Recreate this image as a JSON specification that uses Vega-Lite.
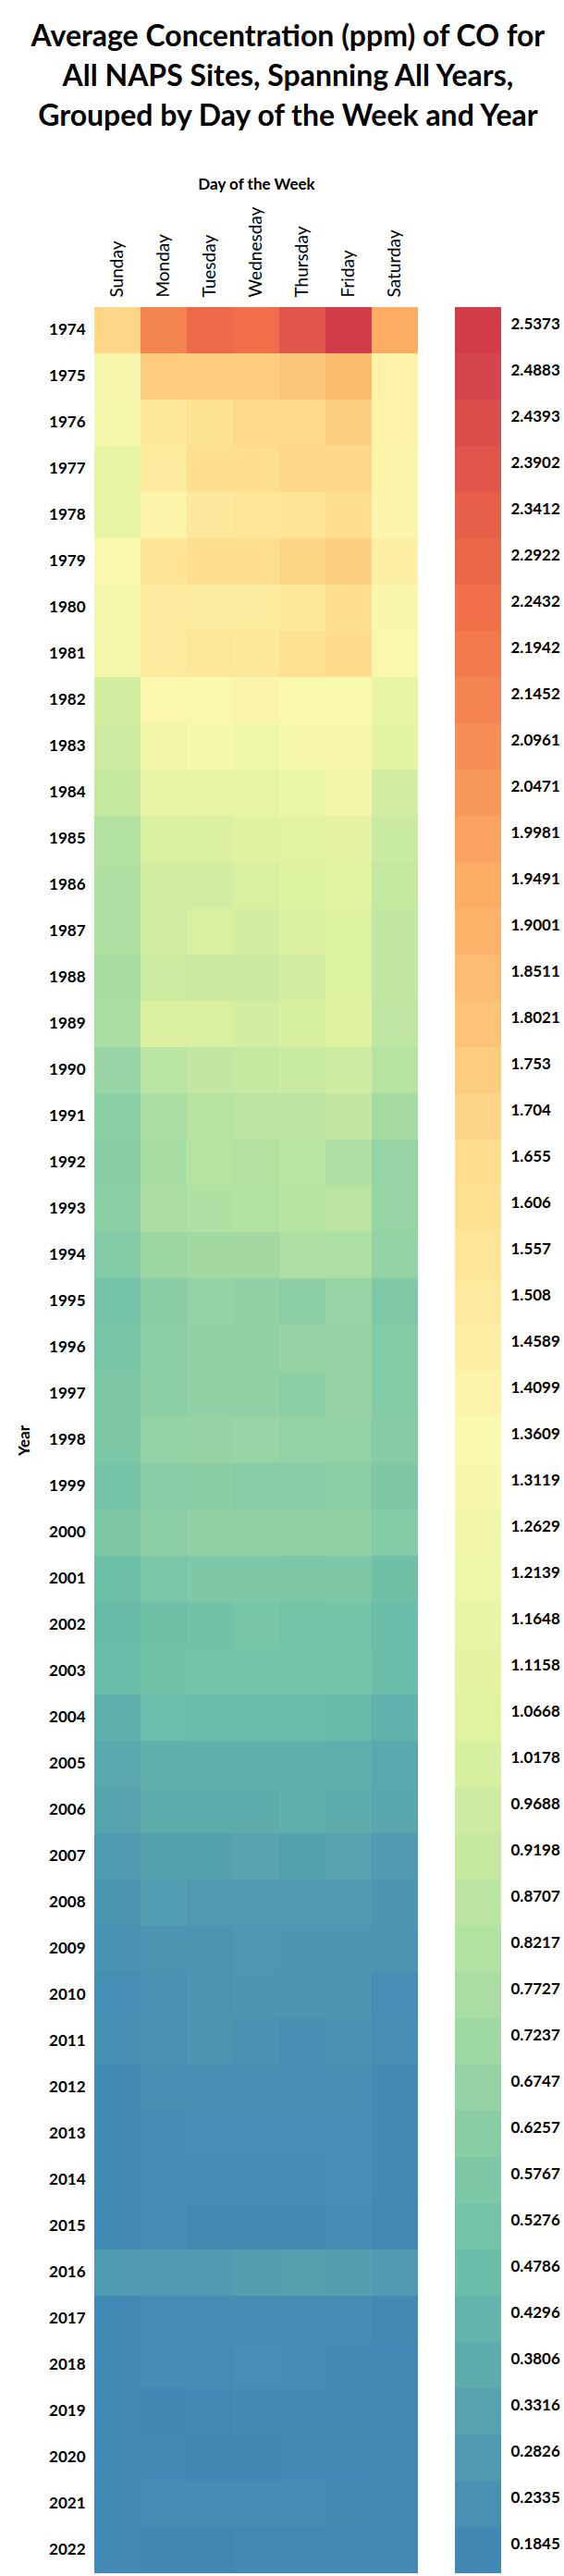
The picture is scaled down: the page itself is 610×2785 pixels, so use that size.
{
  "$schema": "https://vega.github.io/schema/vega-lite/v6.json",
  "padding": {"left": 17, "top": 24, "right": 0, "bottom": 5},
  "config": {
    "view": {"stroke": null},
    "font": "Lato",
    "axis": {"labelColor": "black", "titleColor": "black", "domain": false, "ticks": false, "grid": false}
  },
  "title": {
    "text": ["Average Concentration (ppm) of CO for", "All NAPS Sites, Spanning All Years,", "Grouped by Day of the Week and Year"],
    "fontSize": 32, "fontWeight": "bold", "lineHeight": 43, "anchor": "middle", "offset": 47, "color": "black"
  },
  "spacing": 40,
  "hconcat": [
    {
      "width": 350,
      "height": 2450,
      "data": {"values": [
        {"Year": 1974, "Sunday": 1.70, "Monday": 2.15, "Tuesday": 2.28, "Wednesday": 2.25, "Thursday": 2.40, "Friday": 2.5373, "Saturday": 1.95},
        {"Year": 1975, "Sunday": 1.33, "Monday": 1.76, "Tuesday": 1.76, "Wednesday": 1.76, "Thursday": 1.80, "Friday": 1.86, "Saturday": 1.42},
        {"Year": 1976, "Sunday": 1.28, "Monday": 1.53, "Tuesday": 1.60, "Wednesday": 1.68, "Thursday": 1.68, "Friday": 1.74, "Saturday": 1.42},
        {"Year": 1977, "Sunday": 1.17, "Monday": 1.51, "Tuesday": 1.64, "Wednesday": 1.64, "Thursday": 1.69, "Friday": 1.69, "Saturday": 1.40},
        {"Year": 1978, "Sunday": 1.15, "Monday": 1.40, "Tuesday": 1.52, "Wednesday": 1.56, "Thursday": 1.58, "Friday": 1.64, "Saturday": 1.39},
        {"Year": 1979, "Sunday": 1.35, "Monday": 1.58, "Tuesday": 1.63, "Wednesday": 1.64, "Thursday": 1.71, "Friday": 1.74, "Saturday": 1.47},
        {"Year": 1980, "Sunday": 1.27, "Monday": 1.51, "Tuesday": 1.50, "Wednesday": 1.50, "Thursday": 1.53, "Friday": 1.63, "Saturday": 1.38},
        {"Year": 1981, "Sunday": 1.27, "Monday": 1.51, "Tuesday": 1.55, "Wednesday": 1.53, "Thursday": 1.62, "Friday": 1.66, "Saturday": 1.37},
        {"Year": 1982, "Sunday": 1.00, "Monday": 1.37, "Tuesday": 1.34, "Wednesday": 1.40, "Thursday": 1.34, "Friday": 1.34, "Saturday": 1.15},
        {"Year": 1983, "Sunday": 0.97, "Monday": 1.26, "Tuesday": 1.30, "Wednesday": 1.24, "Thursday": 1.33, "Friday": 1.33, "Saturday": 1.10},
        {"Year": 1984, "Sunday": 0.93, "Monday": 1.16, "Tuesday": 1.15, "Wednesday": 1.15, "Thursday": 1.18, "Friday": 1.25, "Saturday": 0.98},
        {"Year": 1985, "Sunday": 0.82, "Monday": 1.03, "Tuesday": 1.04, "Wednesday": 1.06, "Thursday": 1.07, "Friday": 1.12, "Saturday": 0.94},
        {"Year": 1986, "Sunday": 0.81, "Monday": 1.00, "Tuesday": 0.99, "Wednesday": 1.03, "Thursday": 1.05, "Friday": 1.07, "Saturday": 0.92},
        {"Year": 1987, "Sunday": 0.81, "Monday": 0.99, "Tuesday": 1.03, "Wednesday": 1.00, "Thursday": 1.04, "Friday": 1.05, "Saturday": 0.90},
        {"Year": 1988, "Sunday": 0.77, "Monday": 0.96, "Tuesday": 0.95, "Wednesday": 0.95, "Thursday": 0.98, "Friday": 1.05, "Saturday": 0.90},
        {"Year": 1989, "Sunday": 0.78, "Monday": 1.04, "Tuesday": 1.03, "Wednesday": 1.00, "Thursday": 1.02, "Friday": 1.06, "Saturday": 0.89},
        {"Year": 1990, "Sunday": 0.70, "Monday": 0.86, "Tuesday": 0.91, "Wednesday": 0.93, "Thursday": 0.94, "Friday": 0.97, "Saturday": 0.85},
        {"Year": 1991, "Sunday": 0.65, "Monday": 0.78, "Tuesday": 0.85, "Wednesday": 0.87, "Thursday": 0.88, "Friday": 0.91, "Saturday": 0.75},
        {"Year": 1992, "Sunday": 0.63, "Monday": 0.77, "Tuesday": 0.84, "Wednesday": 0.83, "Thursday": 0.86, "Friday": 0.81, "Saturday": 0.69},
        {"Year": 1993, "Sunday": 0.64, "Monday": 0.79, "Tuesday": 0.81, "Wednesday": 0.82, "Thursday": 0.84, "Friday": 0.87, "Saturday": 0.69},
        {"Year": 1994, "Sunday": 0.60, "Monday": 0.71, "Tuesday": 0.74, "Wednesday": 0.74, "Thursday": 0.80, "Friday": 0.80, "Saturday": 0.67},
        {"Year": 1995, "Sunday": 0.53, "Monday": 0.63, "Tuesday": 0.67, "Wednesday": 0.66, "Thursday": 0.65, "Friday": 0.69, "Saturday": 0.59},
        {"Year": 1996, "Sunday": 0.55, "Monday": 0.65, "Tuesday": 0.66, "Wednesday": 0.66, "Thursday": 0.68, "Friday": 0.68, "Saturday": 0.60},
        {"Year": 1997, "Sunday": 0.57, "Monday": 0.64, "Tuesday": 0.66, "Wednesday": 0.66, "Thursday": 0.65, "Friday": 0.68, "Saturday": 0.60},
        {"Year": 1998, "Sunday": 0.58, "Monday": 0.67, "Tuesday": 0.68, "Wednesday": 0.69, "Thursday": 0.67, "Friday": 0.67, "Saturday": 0.61},
        {"Year": 1999, "Sunday": 0.54, "Monday": 0.62, "Tuesday": 0.63, "Wednesday": 0.62, "Thursday": 0.62, "Friday": 0.64, "Saturday": 0.58},
        {"Year": 2000, "Sunday": 0.58, "Monday": 0.64, "Tuesday": 0.66, "Wednesday": 0.66, "Thursday": 0.66, "Friday": 0.66, "Saturday": 0.60},
        {"Year": 2001, "Sunday": 0.50, "Monday": 0.56, "Tuesday": 0.58, "Wednesday": 0.58, "Thursday": 0.57, "Friday": 0.58, "Saturday": 0.51},
        {"Year": 2002, "Sunday": 0.47, "Monday": 0.51, "Tuesday": 0.52, "Wednesday": 0.55, "Thursday": 0.54, "Friday": 0.54, "Saturday": 0.48},
        {"Year": 2003, "Sunday": 0.48, "Monday": 0.52, "Tuesday": 0.53, "Wednesday": 0.53, "Thursday": 0.53, "Friday": 0.53, "Saturday": 0.48},
        {"Year": 2004, "Sunday": 0.40, "Monday": 0.49, "Tuesday": 0.48, "Wednesday": 0.48, "Thursday": 0.48, "Friday": 0.47, "Saturday": 0.41},
        {"Year": 2005, "Sunday": 0.36, "Monday": 0.40, "Tuesday": 0.40, "Wednesday": 0.40, "Thursday": 0.40, "Friday": 0.40, "Saturday": 0.36},
        {"Year": 2006, "Sunday": 0.34, "Monday": 0.39, "Tuesday": 0.39, "Wednesday": 0.39, "Thursday": 0.40, "Friday": 0.39, "Saturday": 0.35},
        {"Year": 2007, "Sunday": 0.29, "Monday": 0.33, "Tuesday": 0.33, "Wednesday": 0.34, "Thursday": 0.33, "Friday": 0.34, "Saturday": 0.29},
        {"Year": 2008, "Sunday": 0.26, "Monday": 0.30, "Tuesday": 0.28, "Wednesday": 0.28, "Thursday": 0.28, "Friday": 0.28, "Saturday": 0.26},
        {"Year": 2009, "Sunday": 0.24, "Monday": 0.25, "Tuesday": 0.25, "Wednesday": 0.27, "Thursday": 0.26, "Friday": 0.26, "Saturday": 0.25},
        {"Year": 2010, "Sunday": 0.22, "Monday": 0.24, "Tuesday": 0.25, "Wednesday": 0.26, "Thursday": 0.26, "Friday": 0.25, "Saturday": 0.22},
        {"Year": 2011, "Sunday": 0.23, "Monday": 0.24, "Tuesday": 0.25, "Wednesday": 0.24, "Thursday": 0.23, "Friday": 0.24, "Saturday": 0.23},
        {"Year": 2012, "Sunday": 0.20, "Monday": 0.23, "Tuesday": 0.23, "Wednesday": 0.23, "Thursday": 0.23, "Friday": 0.23, "Saturday": 0.20},
        {"Year": 2013, "Sunday": 0.20, "Monday": 0.21, "Tuesday": 0.22, "Wednesday": 0.22, "Thursday": 0.22, "Friday": 0.22, "Saturday": 0.20},
        {"Year": 2014, "Sunday": 0.20, "Monday": 0.21, "Tuesday": 0.21, "Wednesday": 0.21, "Thursday": 0.21, "Friday": 0.22, "Saturday": 0.20},
        {"Year": 2015, "Sunday": 0.19, "Monday": 0.21, "Tuesday": 0.20, "Wednesday": 0.20, "Thursday": 0.20, "Friday": 0.21, "Saturday": 0.19},
        {"Year": 2016, "Sunday": 0.29, "Monday": 0.29, "Tuesday": 0.29, "Wednesday": 0.31, "Thursday": 0.32, "Friday": 0.31, "Saturday": 0.29},
        {"Year": 2017, "Sunday": 0.19, "Monday": 0.21, "Tuesday": 0.21, "Wednesday": 0.21, "Thursday": 0.21, "Friday": 0.21, "Saturday": 0.20},
        {"Year": 2018, "Sunday": 0.19, "Monday": 0.21, "Tuesday": 0.21, "Wednesday": 0.22, "Thursday": 0.21, "Friday": 0.20, "Saturday": 0.19},
        {"Year": 2019, "Sunday": 0.19, "Monday": 0.185, "Tuesday": 0.19, "Wednesday": 0.20, "Thursday": 0.20, "Friday": 0.20, "Saturday": 0.19},
        {"Year": 2020, "Sunday": 0.19, "Monday": 0.19, "Tuesday": 0.185, "Wednesday": 0.1845, "Thursday": 0.19, "Friday": 0.19, "Saturday": 0.19},
        {"Year": 2021, "Sunday": 0.19, "Monday": 0.21, "Tuesday": 0.21, "Wednesday": 0.21, "Thursday": 0.21, "Friday": 0.20, "Saturday": 0.19},
        {"Year": 2022, "Sunday": 0.19, "Monday": 0.185, "Tuesday": 0.185, "Wednesday": 0.19, "Thursday": 0.19, "Friday": 0.19, "Saturday": 0.19}
      ]},
      "transform": [
        {"fold": ["Sunday", "Monday", "Tuesday", "Wednesday", "Thursday", "Friday", "Saturday"], "as": ["Day", "CO"]}
      ],
      "mark": "rect",
      "encoding": {
        "x": {
          "field": "Day", "type": "nominal",
          "sort": ["Sunday", "Monday", "Tuesday", "Wednesday", "Thursday", "Friday", "Saturday"],
          "title": "Day of the Week",
          "axis": {"orient": "top", "labelAngle": -90, "labelFontSize": 19, "labelPadding": 11, "titleFontSize": 17, "titleFontWeight": "bold", "titlePadding": 15}
        },
        "y": {
          "field": "Year", "type": "ordinal",
          "title": "Year",
          "axis": {"labelFontSize": 17, "labelFontWeight": "bold", "labelPadding": 10, "titleFontSize": 17, "titleFontWeight": "bold", "titlePadding": 17}
        },
        "color": {
          "field": "CO", "type": "quantitative",
          "scale": {"type": "linear", "domain": [0.1845, 2.5373], "scheme": {"name": "spectral", "extent": [0.9, 0.1]}},
          "legend": null
        },
        "tooltip": [
          {"field": "Year", "type": "ordinal"},
          {"field": "Day", "type": "nominal"},
          {"field": "CO", "type": "quantitative", "title": "CO (ppm)"}
        ]
      }
    },
    {
      "width": 50,
      "height": 2450,
      "data": {"values": [
        {"v": 2.5373}, {"v": 2.4883}, {"v": 2.4393}, {"v": 2.3902}, {"v": 2.3412}, {"v": 2.2922}, {"v": 2.2432},
        {"v": 2.1942}, {"v": 2.1452}, {"v": 2.0961}, {"v": 2.0471}, {"v": 1.9981}, {"v": 1.9491}, {"v": 1.9001},
        {"v": 1.8511}, {"v": 1.8021}, {"v": 1.753}, {"v": 1.704}, {"v": 1.655}, {"v": 1.606}, {"v": 1.557},
        {"v": 1.508}, {"v": 1.4589}, {"v": 1.4099}, {"v": 1.3609}, {"v": 1.3119}, {"v": 1.2629}, {"v": 1.2139},
        {"v": 1.1648}, {"v": 1.1158}, {"v": 1.0668}, {"v": 1.0178}, {"v": 0.9688}, {"v": 0.9198}, {"v": 0.8707},
        {"v": 0.8217}, {"v": 0.7727}, {"v": 0.7237}, {"v": 0.6747}, {"v": 0.6257}, {"v": 0.5767}, {"v": 0.5276},
        {"v": 0.4786}, {"v": 0.4296}, {"v": 0.3806}, {"v": 0.3316}, {"v": 0.2826}, {"v": 0.2335}, {"v": 0.1845}
      ]},
      "mark": "rect",
      "encoding": {
        "x": {"datum": "colorbar", "type": "nominal", "axis": null, "scale": {"paddingInner": 0, "paddingOuter": 0}},
        "y": {
          "field": "v", "type": "ordinal", "sort": "descending", "title": null,
          "axis": {"orient": "right", "labelFontSize": 17, "labelFontWeight": "bold", "labelPadding": 10, "labelOffset": -6}
        },
        "color": {
          "field": "v", "type": "quantitative",
          "scale": {"type": "linear", "domain": [0.1845, 2.5373], "scheme": {"name": "spectral", "extent": [0.9, 0.1]}},
          "legend": null
        }
      }
    }
  ]
}
